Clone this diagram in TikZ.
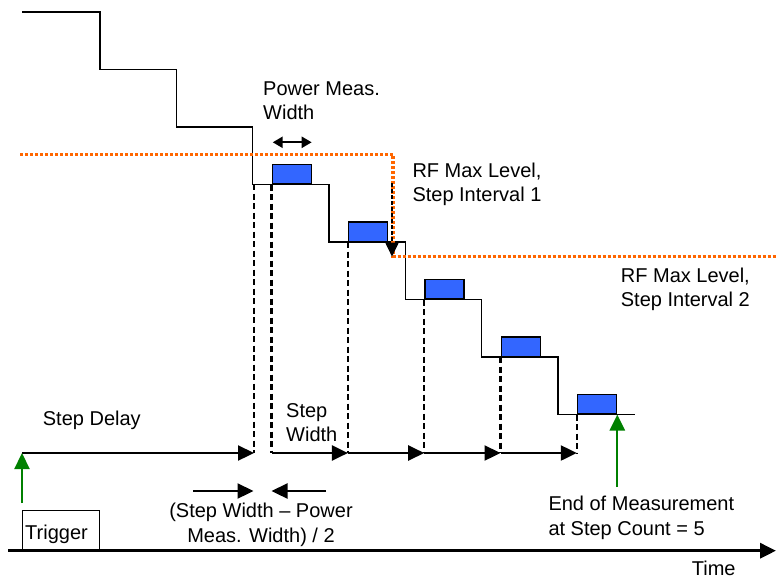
\documentclass[tikz,border=0pt]{standalone}
\usepackage{fontspec}
\setmainfont{Liberation Sans}
\usepackage{tikz}
\usetikzlibrary{arrows.meta,calc,positioning}
\usepackage{xcolor}
\definecolor{misura}{RGB}{51,102,255}
\definecolor{limite}{RGB}{255,102,0}
\definecolor{verde}{RGB}{0,128,0}

\tikzset{
  etichetta/.style={anchor=base west,inner sep=0pt,align=left,font=\fontsize{20}{24.5}\selectfont},
  finestra/.style={draw,fill=misura,line width=1.5pt,minimum width=39pt,minimum height=19.5pt,inner sep=0pt,anchor=south west},
  tratteggio/.style={line width=2.5pt,dash pattern=on 6pt off 3.5pt},
  freccia/.style={line width=2.3pt,-{Triangle[length=16pt,width=15pt]}},
  livello/.style={limite,line width=3.5pt,dash pattern=on 3pt off 2pt}
}

\begin{document}
\begin{tikzpicture}[x=1pt,y=-1pt]
\useasboundingbox (0,0) rectangle (776,579);
% Scala dei livelli
\draw[line width=1.4pt] (22,12) -- (100,12)
  \foreach \i in {1,...,6}{ |- ({100+76.3*\i},{12+57.5*\i}) } |- (558,414.5) -- (635,414.5);
% Limite RF (tratteggiato arancione)
\coordinate (l0) at (20,154.3);
\coordinate (l1) at (393,154.3);
\coordinate (l2) at (393,256.7);
\coordinate (l3) at (776,256.7);
\draw[livello] (l0) -- (l1) -- (l2) -- (l3);
\coordinate (c0) at (392,183);
\draw[line width=1.8pt,dash pattern=on 4pt off 2pt,-{Triangle[length=14pt,width=13pt]}] (c0) -- (l2 -| c0);
% Finestre di misura
\foreach \i in {2,...,6}{
  \node[finestra] (m\i) at ({100+76.3*\i+19},{12+57.5*\i+57.5}) {};
}
\coordinate (t0) at (22,453);
\coordinate (ts) at (254,453);
% linee tratteggiate
\draw[tratteggio] (254,184) -- (ts);
\foreach \i in {2,...,6}{
  \draw[tratteggio] (m\i.south west) -- (m\i.south west |- ts);
}
% frecce dei passi
\draw[freccia] (t0) -- (ts);
\foreach \a/\b in {2/3,3/4,4/5,5/6}{
  \draw[freccia] (m\a.south west |- ts) -- (m\b.south west |- ts);
}
% trigger e asse dei tempi
\node[draw,line width=1.4pt,minimum width=77pt,minimum height=40pt,inner sep=0pt,anchor=north west] (trigger) at (22,510) {};
\node[etichetta] (trigtxt) at (25,539) {Trigger};
\coordinate (o) at (8,550.7);
\coordinate (fine) at (776,550.7);
\draw[line width=3.2pt,-{Triangle[length=16pt,width=15pt]}] (o) -- (fine);
\coordinate (g0) at (22,503);
\draw[verde,freccia] (g0) -- (t0);
\coordinate (g1) at (m6.south east |- 0,487);
\draw[verde,freccia] (g1) -- (m6.south east);
% larghezza di misura
\coordinate (p0) at (272.7,142.3);
\coordinate (p1) at (311.7,142.3);
\draw[line width=2.2pt,{Triangle[length=10pt,width=11pt]}-{Triangle[length=10pt,width=11pt]}] (p0) -- (p1);
% frecce (Step Width - Power Meas. Width)/2
\coordinate (h0) at (193,491);
\coordinate (h1) at (253.5,491);
\coordinate (h2) at (326,491);
\coordinate (h3) at (271.5,491);
\draw[freccia] (h0) -- (h1);
\draw[freccia] (h2) -- (h3);
% etichette
\node[etichetta] (pmw) at (263,119.5) {Power Meas.\\Width};
\node[etichetta] (rf1) at (412.3,201.7) {RF Max Level,\\Step Interval 1};
\node[etichetta] (rf2) at (620.7,306.7) {RF Max Level,\\Step Interval 2};
\node[etichetta] (sdelay) at (42.7,425.7) {Step Delay};
\node[etichetta] (swidth) at (286,441.7) {Step\\Width};
\node[etichetta,anchor=base,align=center] (half) at (261,542.3) {(Step Width \textendash{} Power\\Meas. Width) / 2};
\node[etichetta] (endm) at (548.3,535) {End of Measurement\\at Step Count = 5};
\node[etichetta] (tempo) at (691.7,575) {Time};
\end{tikzpicture}
\end{document}
